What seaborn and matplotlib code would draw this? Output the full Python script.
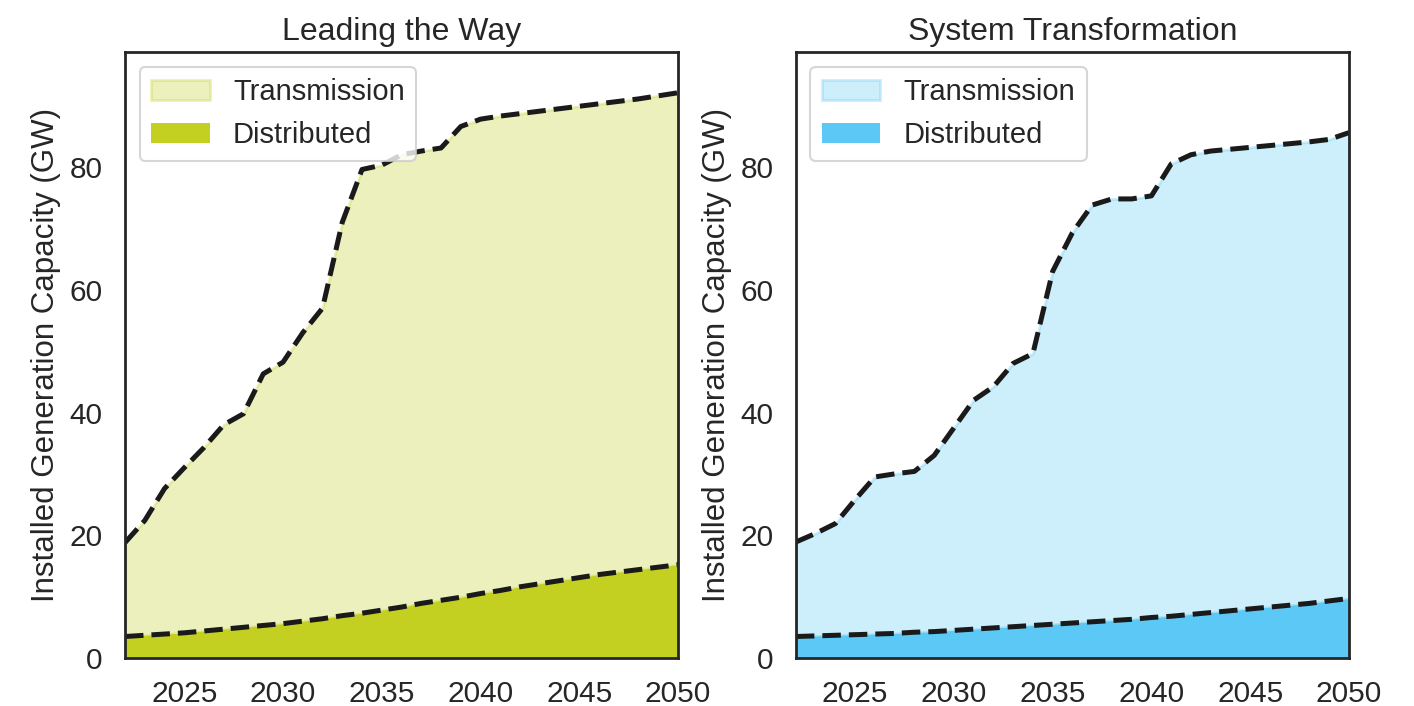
import numpy as np
import pandas as pd
import matplotlib
matplotlib.use("Agg")
import matplotlib.pyplot as plt
import seaborn as sns

years = list(range(2022, 2051))

# Leading the Way: total (top of stack) and distributed (bottom layer), GW
ltw_total = [18.8, 22.4, 27.6, 31.0, 34.3, 38.0, 39.8, 46.3, 48.2, 53.0, 57.0,
             71.0, 79.6, 80.3, 82.0, 82.6, 83.1, 86.6, 87.8, 88.3, 88.7,
             89.1, 89.5, 89.9, 90.3, 90.7, 91.1, 91.6, 92.1]
ltw_dist = [3.5, 3.7, 3.9, 4.1, 4.4, 4.7, 5.0, 5.3, 5.6, 6.0, 6.4, 6.9, 7.3,
            7.8, 8.3, 8.9, 9.4, 9.9, 10.5, 11.0, 11.6, 12.1, 12.6, 13.1,
            13.6, 14.0, 14.4, 14.8, 15.2]

# System Transformation
st_total = [18.9, 20.3, 21.9, 25.8, 29.5, 30.0, 30.4, 33.0, 37.5, 42.0, 44.2,
            48.0, 49.6, 63.0, 69.3, 73.8, 74.8, 74.8, 75.3, 80.5, 82.0,
            82.6, 82.9, 83.2, 83.5, 83.8, 84.1, 84.5, 85.6]
st_dist = [3.5, 3.6, 3.7, 3.8, 3.9, 4.0, 4.2, 4.3, 4.5, 4.7, 4.9, 5.1, 5.3,
           5.5, 5.7, 5.9, 6.1, 6.3, 6.6, 6.8, 7.1, 7.4, 7.7, 8.0, 8.3, 8.6,
           8.9, 9.3, 9.7]

titles = ["Leading the Way", "System Transformation"]
colors = ["#c3cf21", "#5bc8f5"]

sns.set_theme(style="white", context="talk")
plt.rcParams["font.family"] = ["Liberation Sans", "DejaVu Sans"]

fig, axes = plt.subplots(1, 2, figsize=(14.14, 7.06), dpi=100)
fig.subplots_adjust(left=0.0884, right=0.954, bottom=0.068, top=0.926, wspace=0.213)

for ax, title, col, total, dist in zip(axes, titles, colors,
                                       [ltw_total, st_total], [ltw_dist, st_dist]):
    df = pd.DataFrame({"year": years, "total": total, "dist": dist})
    h_tr = ax.fill_between(df["year"], df["dist"], df["total"], color=col,
                           alpha=0.3, lw=2, label="Transmission")
    h_di = ax.fill_between(df["year"], 0, df["dist"], color=col, lw=0,
                           label="Distributed")
    sns.lineplot(data=df, x="year", y="total", ax=ax, color="#1a1a1a",
                 linestyle="--", lw=3.6)
    sns.lineplot(data=df, x="year", y="dist", ax=ax, color="#1a1a1a",
                 linestyle="--", lw=3.6)
    ax.set_xlim(2022, 2050)
    ax.set_ylim(0, 98.7)
    ax.set_xticks([2025, 2030, 2035, 2040, 2045, 2050])
    ax.set_yticks([0, 20, 40, 60, 80])
    ax.tick_params(labelsize=21.5, length=0, pad=16)
    ax.set_xlabel("")
    ax.set_ylabel("Installed Generation Capacity (GW)", fontsize=22.5, labelpad=6)
    ax.set_title(title, fontsize=23, pad=9)
    ax.legend(handles=[h_tr, h_di], loc="upper left", fontsize=21)
    for s in ax.spines.values():
        s.set_linewidth(2)
        s.set_color("#262626")

fig.savefig("out.png", dpi=100)
